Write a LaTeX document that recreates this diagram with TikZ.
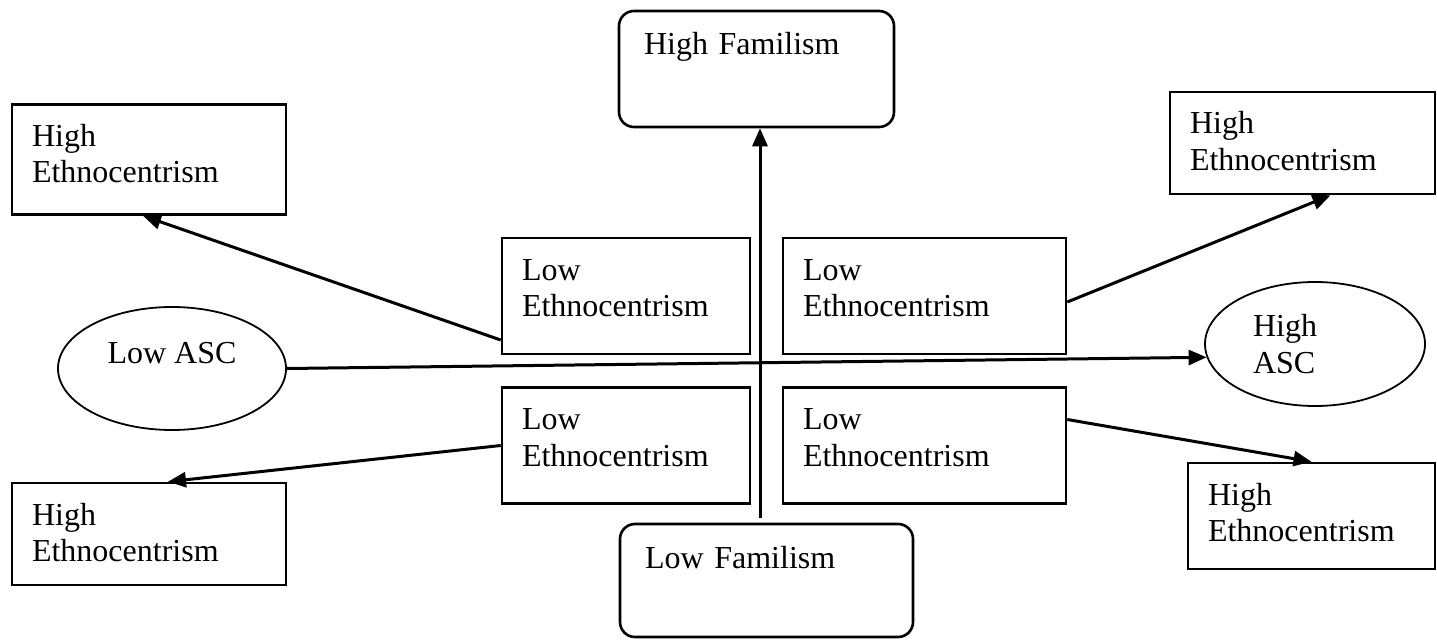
\documentclass[tikz,border=0pt]{standalone}
\usepackage{fontspec}
\setmainfont{Liberation Serif}
\usetikzlibrary{arrows.meta,shapes.geometric}

\begin{document}
\begin{tikzpicture}[x=1pt, y=-1pt,
	every node/.style={draw, line width=2.6pt, align=left, font=\fontsize{32}{36.5}\selectfont, text height=22pt},
	ebox/.style={inner xsep=20pt, inner ysep=20pt},
	fbox/.style={rounded corners=15pt, inner xsep=25pt, inner ysep=22pt},
	oval/.style={ellipse, line width=1.8pt, inner sep=0pt},
	every edge/.style={draw, line width=3pt, -{Triangle[length=18pt,width=15pt]}}]
			\useasboundingbox (0,0) rectangle (1437,644);
			
			\node[fbox, text width=225pt, text depth=50pt] (HiFam) at (756.5,69) {High Familism};
			\node[fbox, text width=243pt, text depth=47pt] (LoFam) at (766.5,580.5) {Low Familism};
			\node[ebox, text width=234pt, text depth=48pt] (HETL) at (149,159.5) {High\\Ethnocentrism};
			\node[ebox, text width=225pt, text depth=40pt] (HETR) at (1302.5,143) {High\\Ethnocentrism};
			\node[ebox, text width=234pt, text depth=40pt] (HEBL) at (149,534) {High\\Ethnocentrism};
			\node[ebox, text width=207pt, text depth=44pt] (HEBR) at (1311.5,516) {High\\Ethnocentrism};
			\node[ebox, text width=208pt, text depth=54pt] (LETL) at (626,296) {Low\\Ethnocentrism};
			\node[ebox, text width=243pt, text depth=54pt] (LETR) at (924.5,296) {Low\\Ethnocentrism};
			\node[ebox, text width=208pt, text depth=54pt] (LEBL) at (626,445.5) {Low\\Ethnocentrism};
			\node[ebox, text width=243pt, text depth=54pt] (LEBR) at (924.5,445.5) {Low\\Ethnocentrism};
			\node[oval, minimum width=228pt, minimum height=123pt, text depth=32pt] (LoASC) at (172,368.5) {Low ASC};
			\node[oval, minimum width=220pt, minimum height=124pt, text width=124pt] (HiASC) at (1315,344) {High\\ASC};
			
			\path ([yshift=-44pt]LETL.west) edge ([xshift=-6pt]HETL.south);
			\path ([yshift=-6pt]LETR.east) edge ([xshift=28pt]HETR.south);
			\path (LEBL.west) edge ([xshift=19pt]HEBL.north);
			\path ([yshift=26pt]LEBR.east) edge (HEBR.north);
			\path (LoASC.east) edge (HiASC.187);
			\path ([xshift=-6.5pt,yshift=5pt]LoFam.north) edge ([xshift=3.5pt]HiFam.south);
		\end{tikzpicture}
\end{document}
